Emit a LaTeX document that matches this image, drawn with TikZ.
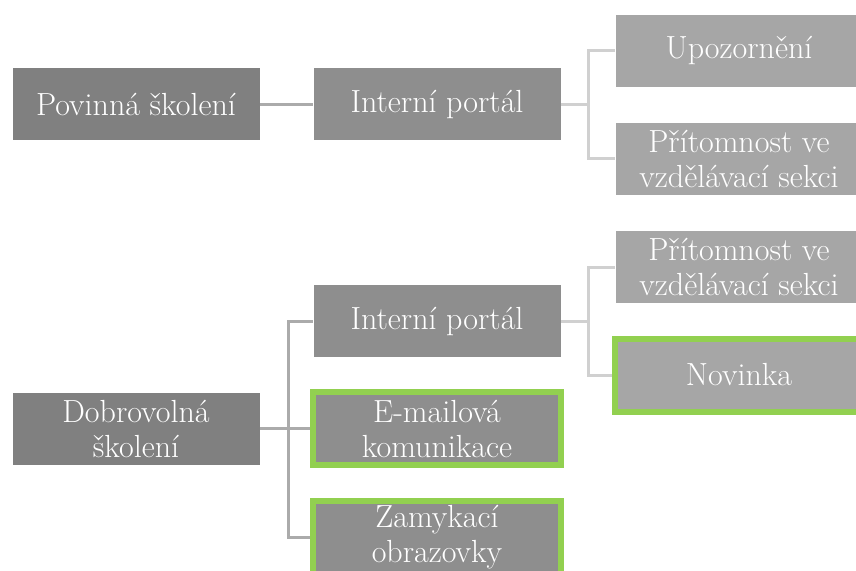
\documentclass[tikz,border=0pt]{standalone}
\definecolor{boxone}{HTML}{808080}
\definecolor{boxtwo}{HTML}{8E8E8E}
\definecolor{boxthree}{HTML}{A6A6A6}
\definecolor{lineone}{HTML}{ABABAB}
\definecolor{linetwo}{HTML}{D0D0D0}
\definecolor{mark}{HTML}{92D050}
\tikzset{
  item/.style={minimum width=248pt, minimum height=73pt, inner sep=0pt,
    text=white, align=center, draw=white, line width=0.6pt,
    font=\fontsize{32}{35}\selectfont},
  levelone/.style={item, fill=boxone},
  leveltwo/.style={item, fill=boxtwo},
  levelthree/.style={item, fill=boxthree},
  picked/.style={draw=mark, line width=6pt},
  linkone/.style={draw=lineone, line width=3pt},
  linktwo/.style={draw=linetwo, line width=3pt}
}
\begin{document}
\begin{tikzpicture}[x=1pt, y=-1pt]
  \useasboundingbox (0,0) rectangle (856,570);
  \clip (0,0) rectangle (856,570);
  % Povinna skoleni
  \node[levelone] (pov) at (136,104) {Povinná školení};
  \node[leveltwo] (ipone) at (437,104) {Interní portál};
  \node[levelthree] (upo) at (739,50.5) {Upozornění};
  \node[levelthree] (prione) at (739,158.5) {Přítomnost ve\\vzdělávací sekci};
  % Dobrovolna skoleni
  \node[levelone] (dob) at (136,428.5) {Dobrovolná\\školení};
  \node[leveltwo] (iptwo) at (437,321) {Interní portál};
  \node[leveltwo, picked] (mail) at (437,428.5) {E-mailová\\komunikace};
  \node[leveltwo, picked] (zam) at (437,537) {Zamykací\\obrazovky};
  \node[levelthree] (pritwo) at (739,267) {Přítomnost ve\\vzdělávací sekci};
  \node[levelthree, picked] (nov) at (739,375) {Novinka};
  % Connectors
  \draw[linkone] (pov) -- (ipone);
  \coordinate (forkone) at (588,104);
  \draw[linktwo] (ipone.east) -- (forkone);
  \draw[linktwo] (upo.west) -| (forkone) |- (prione.west);
  \coordinate (forktwo) at (288,428.5);
  \draw[linkone] (dob.east) -- (forktwo);
  \draw[linkone] (iptwo.west) -| (forktwo) |- (zam.west);
  \draw[linkone] (forktwo) -- (mail.west);
  \coordinate (forkthree) at (588,321);
  \draw[linktwo] (iptwo.east) -- (forkthree);
  \draw[linktwo] (pritwo.west) -| (forkthree) |- (nov.west);
\end{tikzpicture}
\end{document}
